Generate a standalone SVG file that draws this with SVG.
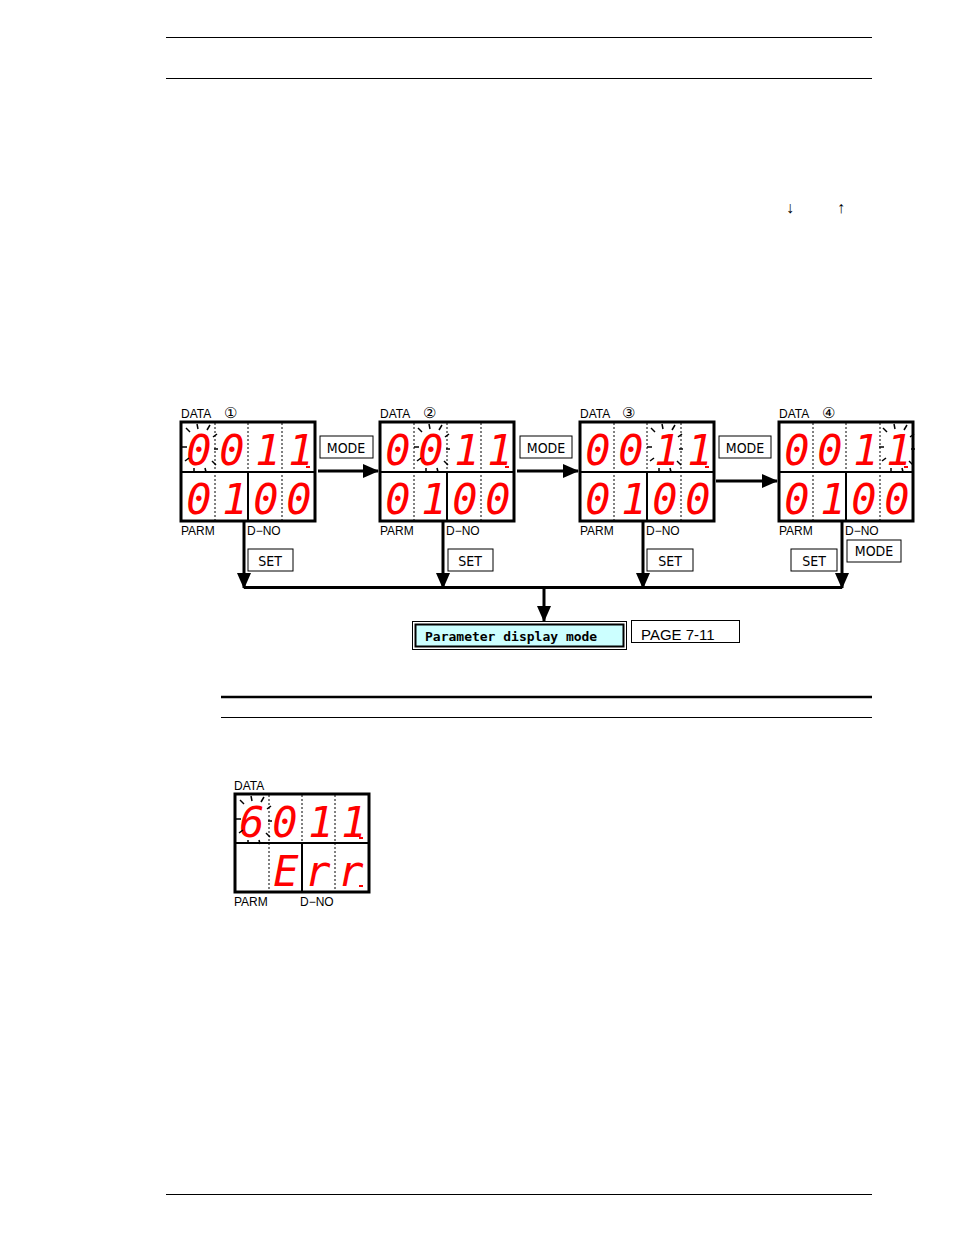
<svg xmlns="http://www.w3.org/2000/svg" width="954" height="1235" viewBox="0 0 954 1235">
<style>
.rule{stroke:#000;stroke-width:1}
.box{fill:#fff;stroke:#000;stroke-width:3}
.sep{stroke:#000;stroke-width:2}
.dot{stroke:#000;stroke-width:1;stroke-dasharray:2,2}
.dig{font-family:"DejaVu Sans Mono",monospace;font-style:italic;font-size:42px;fill:#f00;text-anchor:middle}
.lbl{font-family:"Liberation Sans",Arial,sans-serif;font-size:12px;fill:#000}
.key{font-family:"DejaVu Sans Condensed","Liberation Sans",sans-serif;font-size:14px;fill:#000}
.kb{fill:#fff;stroke:#000;stroke-width:1}
.blink{stroke:#000;stroke-width:1.5}
.ln{stroke:#000;stroke-width:3;fill:none}
</style>
<defs>
<marker id="ah2" markerWidth="16" markerHeight="14" refX="15" refY="7" orient="auto" markerUnits="userSpaceOnUse">
<path d="M0,0 L16,7 L0,14 z" fill="#000"/>
</marker>
<g id="disp">
<rect class="box" x="0" y="0" width="134" height="99"/>
<line class="sep" x1="0" y1="50" x2="134" y2="50"/>
<line class="dot" x1="34" y1="1" x2="34" y2="98"/>
<line class="dot" x1="67" y1="1" x2="67" y2="50"/>
<line class="sep" x1="67" y1="50" x2="67" y2="99"/>
<line class="dot" x1="101" y1="1" x2="101" y2="98"/>
<text class="dig" x="18" y="43">0</text><text class="dig" x="51" y="43">0</text>
<text class="dig" x="87" y="43">1</text><text class="dig" x="120" y="43">1</text>
<text class="dig" x="18" y="92">0</text><text class="dig" x="54" y="92">1</text>
<text class="dig" x="85" y="92">0</text><text class="dig" x="118" y="92">0</text>
<rect x="125" y="44" width="4" height="2" fill="#f00"/>
</g>
<g id="bl">
<line class="blink" x1="-14" y1="-19" x2="-10" y2="-15"/><line class="blink" x1="-3" y1="-23" x2="-2" y2="-18"/>
<line class="blink" x1="10" y1="-22" x2="7" y2="-17"/><line class="blink" x1="17" y1="-13" x2="13" y2="-10"/>
<line class="blink" x1="-18" y1="0" x2="-13" y2="0"/><line class="blink" x1="14" y1="2" x2="18" y2="2"/>
<line class="blink" x1="-15" y1="14" x2="-11" y2="11"/><line class="blink" x1="12" y1="14" x2="16" y2="18"/>
<line class="blink" x1="-6" y1="21" x2="-6" y2="25"/><line class="blink" x1="5" y1="21" x2="6" y2="25"/>
</g>
</defs>
<g id="header">
<line class="rule" x1="166" y1="37.5" x2="872" y2="37.5"/>
<line class="rule" x1="166" y1="78.5" x2="872" y2="78.5"/>
<text class="lbl" x="786" y="213" style="font-size:16px">↓</text>
<text class="lbl" x="837" y="213" style="font-size:16px">↑</text>
</g>
<g id="d1"><text class="lbl" x="181" y="418">DATA</text><text class="lbl" x="224" y="418" style="font-size:15px">①</text><use href="#disp" x="181" y="422"/><use href="#bl" x="200" y="447"/>
<text class="lbl" x="181" y="535">PARM</text><text class="lbl" x="247" y="535">D−NO</text></g>
<g id="d2"><text class="lbl" x="380" y="418">DATA</text><text class="lbl" x="423" y="418" style="font-size:15px">②</text><use href="#disp" x="380" y="422"/><use href="#bl" x="432" y="447"/>
<text class="lbl" x="380" y="535">PARM</text><text class="lbl" x="446" y="535">D−NO</text></g>
<g id="d3"><text class="lbl" x="580" y="418">DATA</text><text class="lbl" x="622" y="418" style="font-size:15px">③</text><use href="#disp" x="580" y="422"/><use href="#bl" x="665" y="447"/>
<text class="lbl" x="580" y="535">PARM</text><text class="lbl" x="646" y="535">D−NO</text></g>
<g id="d4"><text class="lbl" x="779" y="418">DATA</text><text class="lbl" x="822" y="418" style="font-size:15px">④</text><use href="#disp" x="779" y="422"/><use href="#bl" x="897" y="447"/>
<text class="lbl" x="779" y="535">PARM</text><text class="lbl" x="845" y="535">D−NO</text></g>
<g id="keys">
<rect class="kb" x="320" y="436" width="53" height="22"/><text class="key" x="346" y="453" text-anchor="middle">MODE</text>
<rect class="kb" x="520" y="436" width="52" height="22"/><text class="key" x="546" y="453" text-anchor="middle">MODE</text>
<rect class="kb" x="719" y="436" width="52" height="22"/><text class="key" x="745" y="453" text-anchor="middle">MODE</text>
<rect class="kb" x="248" y="549" width="45" height="22"/><text class="key" x="270" y="566" text-anchor="middle">SET</text>
<rect class="kb" x="448" y="549" width="45" height="22"/><text class="key" x="470" y="566" text-anchor="middle">SET</text>
<rect class="kb" x="647" y="549" width="46" height="22"/><text class="key" x="670" y="566" text-anchor="middle">SET</text>
<rect class="kb" x="791" y="549" width="46" height="22"/><text class="key" x="814" y="566" text-anchor="middle">SET</text>
<rect class="kb" x="847" y="540" width="54" height="22"/><text class="key" x="874" y="556" text-anchor="middle">MODE</text>
</g>
<g id="connectors">
<line class="ln" x1="318" y1="471" x2="378" y2="471" marker-end="url(#ah2)"/>
<line class="ln" x1="517" y1="471" x2="578" y2="471" marker-end="url(#ah2)"/>
<line class="ln" x1="716" y1="481" x2="777" y2="481" marker-end="url(#ah2)"/>
<line class="ln" x1="244" y1="521" x2="244" y2="588" marker-end="url(#ah2)"/>
<line class="ln" x1="443" y1="521" x2="443" y2="588" marker-end="url(#ah2)"/>
<line class="ln" x1="643" y1="521" x2="643" y2="588" marker-end="url(#ah2)"/>
<line class="ln" x1="842" y1="521" x2="842" y2="588" marker-end="url(#ah2)"/>
<line class="ln" x1="244" y1="587.5" x2="842" y2="587.5"/>
<line class="ln" x1="544" y1="587" x2="544" y2="621" marker-end="url(#ah2)"/>
</g>
<g id="pdm">
<rect x="412.5" y="621.5" width="214" height="28" fill="#fff" stroke="#000"/>
<rect x="415.5" y="624.5" width="208" height="22" fill="#cff" stroke="#000" stroke-width="2"/>
<text x="425" y="641" style="font-family:'DejaVu Sans Mono',monospace;font-weight:bold;font-size:13px">Parameter display mode</text>
</g>
<g id="page"><rect class="kb" x="631.5" y="620.5" width="108" height="22"/><text class="lbl" x="641" y="640" style="font-size:15px">PAGE 7-11</text></g>
<g id="sec">
<line stroke="#000" stroke-width="2.5" x1="221" y1="697" x2="872" y2="697"/>
<line class="rule" x1="221" y1="717.5" x2="872" y2="717.5"/>
</g>
<g id="err">
<text class="lbl" x="234" y="790">DATA</text>
<rect class="box" x="235" y="794" width="134" height="98"/>
<line class="sep" x1="235" y1="843" x2="369" y2="843"/>
<line class="dot" x1="269" y1="795" x2="269" y2="891"/>
<line class="dot" x1="302" y1="795" x2="302" y2="843"/>
<line class="sep" x1="302" y1="843" x2="302" y2="892"/>
<line class="dot" x1="335" y1="795" x2="335" y2="891"/>
<text class="dig" x="252" y="837">6</text><text class="dig" x="285" y="837">0</text>
<text class="dig" x="321" y="837">1</text><text class="dig" x="354" y="837">1</text>
<text class="dig" x="286" y="886">E</text><text class="dig" x="318" y="886">r</text><text class="dig" x="351" y="886">r</text>
<rect x="359" y="837" width="4" height="2" fill="#f00"/><rect x="359" y="885" width="4" height="2" fill="#f00"/>
<use href="#bl" x="254" y="819"/>
<text class="lbl" x="234" y="906">PARM</text><text class="lbl" x="300" y="906">D−NO</text>
</g>
<line class="rule" x1="166" y1="1194.5" x2="872" y2="1194.5"/>
</svg>
